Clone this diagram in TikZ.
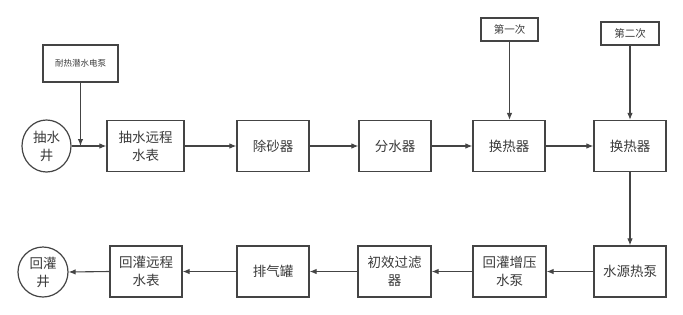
\documentclass[tikz,border=0pt]{standalone}
\usepackage{fontspec}
\setmainfont{Noto Sans CJK SC}
\usetikzlibrary{arrows.meta,shapes.geometric}
\definecolor{ln}{HTML}{444444}
\definecolor{tx}{HTML}{3A3A3A}
\tikzset{
  box/.style={draw=ln,line width=1.2pt,rectangle,inner sep=0pt,minimum width=72pt,minimum height=51pt,align=center,text=tx,font=\fontsize{13.5}{18}\selectfont},
  well/.style={draw=ln,line width=1.2pt,ellipse,inner sep=0pt,minimum width=49pt,minimum height=52pt,align=center,text=tx,font=\fontsize{13.5}{18}\selectfont},
  lab/.style={draw=ln,line width=1.2pt,rectangle,inner sep=0pt,align=center,text=tx},
  flow/.style={draw=ln,line width=1.1pt,-{Latex[length=7pt,width=5.5pt]}}
}
\begin{document}
\begin{tikzpicture}[x=1pt,y=-1pt]
\useasboundingbox (0,0) rectangle (683,314);
% top row
\node[well] (w1) at (46.5,146) {抽水\\井};
\node[lab,minimum width=75pt,minimum height=37pt,font=\fontsize{8.5}{10}\selectfont] (pump) at (80.5,63.5) {耐热潜水电泵};
\node[box,minimum width=77pt] (b1) at (145.5,146) {抽水远程\\水表};
\node[box] (b2) at (273,146) {除砂器};
\node[box] (b3) at (395,146) {分水器};
\node[box] (b4) at (509,146) {换热器};
\node[box] (b5) at (630,146) {换热器};
\node[lab,minimum width=57pt,minimum height=23pt,font=\fontsize{10.5}{12}\selectfont] (f1) at (509.5,29.5) {第一次};
\node[lab,minimum width=58pt,minimum height=23pt,font=\fontsize{10.5}{12}\selectfont] (f2) at (630,33.5) {第二次};
% bottom row
\node[box] (c1) at (630,271.5) {水源热泵};
\node[box,minimum width=73pt] (c2) at (509.5,271.5) {回灌增压\\水泵};
\node[box,minimum width=73pt] (c3) at (394.5,271.5) {初效过滤\\器};
\node[box] (c4) at (273,271.5) {排气罐};
\node[box] (c5) at (146,271.5) {回灌远程\\水表};
\node[well,minimum width=50pt,minimum height=50pt] (w2) at (43,272) {回灌\\井};
% connectors
\coordinate (j) at (pump.south |- w1.east);
\draw[flow] (pump.south) -- (j);
\draw[flow] (w1.east) -- (b1.west);
\draw[flow] (b1) -- (b2);
\draw[flow] (b2) -- (b3);
\draw[flow] (b3) -- (b4);
\draw[flow] (b4) -- (b5);
\draw[flow] (f1.south) -- (f1.south |- b4.north);
\draw[flow] (f2.south) -- (f2.south |- b5.north);
\draw[flow] (b5) -- (c1);
\draw[flow] (c1) -- (c2);
\draw[flow] (c2) -- (c3);
\draw[flow] (c3) -- (c4);
\draw[flow] (c4) -- (c5);
\draw[flow] (c5.west) -- (w2.east);
\end{tikzpicture}
\end{document}
